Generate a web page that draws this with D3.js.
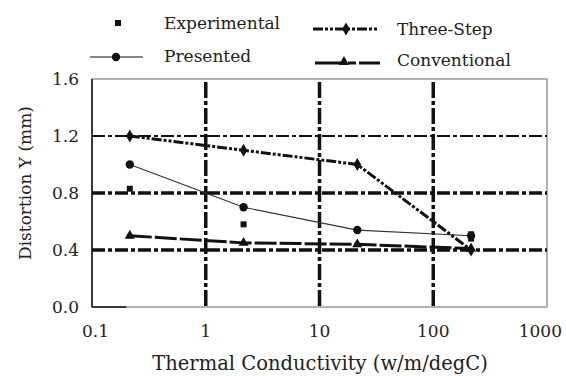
<!DOCTYPE html>
<html>
<head>
<meta charset="utf-8">
<script src="https://cdn.jsdelivr.net/npm/d3@7"></script>
<style>
  body { margin: 0; background: #fff; }
</style>
</head>
<body>
<div id="chart"></div>
<script>
// conductivity values (w/m/degC)
var conductivity = [0.215, 2.15, 21.5, 215];
var threeStep = [1.2, 1.1, 1.0, 0.4];
var presented = [1.0, 0.7, 0.54, 0.5];
var conventional = [0.5, 0.45, 0.44, 0.41];
var experimentalX = [0.215, 2.15, 215, 215];
var experimentalY = [0.83, 0.58, 0.51, 0.48];
var xTicks = [0.1, 1, 10, 100, 1000];
var yTicks = [0.0, 0.4, 0.8, 1.2, 1.6];

var width = 566, height = 376;
var margin = {left: 92, right: 19, top: 79, bottom: 69};
var fontFamily = "'DejaVu Serif', 'Liberation Serif', serif";
var fontSize = "17px";

var svg = d3.select("#chart")
  .append("svg")
    .attr("width", width)
    .attr("height", height)
    .attr("font-family", fontFamily);

var x = d3.scaleLog()
  .domain([0.1, 1000])
  .range([margin.left, width - margin.right]);
var y = d3.scaleLinear()
  .domain([0, 1.6])
  .range([height - margin.bottom, margin.top]);

function label(px, py, str, anchor, size) {
  return svg.append("text")
    .attr("x", px).attr("y", py)
    .attr("text-anchor", anchor || "start")
    .attr("font-family", fontFamily)
    .style("font-size", size || fontSize)
    .style("fill", "#222")
    .text(str);
}

// frame (gray top/right/bottom, black left)
svg.append("rect")
  .attr("x", x(0.1)).attr("y", y(1.6))
  .attr("width", x(1000) - x(0.1)).attr("height", y(0) - y(1.6))
  .attr("fill", "none").attr("stroke", "#999").attr("stroke-width", 1.5);
svg.append("line")
  .attr("x1", x(0.1)).attr("x2", x(0.1)).attr("y1", y(0)).attr("y2", y(1.6))
  .attr("stroke", "#111").attr("stroke-width", 1.5);
svg.append("line")
  .attr("x1", x(0.1)).attr("x2", x(0.2)).attr("y1", y(0)).attr("y2", y(0))
  .attr("stroke", "#111").attr("stroke-width", 1.5);

// grid lines
var hGrid = [
  {v: 1.2, w: 2},
  {v: 0.8, w: 3.5},
  {v: 0.4, w: 3.5}
];
svg.append("g").selectAll("line")
  .data(hGrid)
  .enter().append("line")
    .attr("x1", x(0.1)).attr("x2", x(1000))
    .attr("y1", function(d) { return y(d.v); })
    .attr("y2", function(d) { return y(d.v); })
    .attr("stroke", "#111")
    .attr("stroke-width", function(d) { return d.w; })
    .attr("stroke-dasharray", "13,3,4,3");

svg.append("g").selectAll("line")
  .data([1, 10, 100])
  .enter().append("line")
    .attr("x1", function(d) { return x(d); })
    .attr("x2", function(d) { return x(d); })
    .attr("y1", y(1.6) + 3).attr("y2", y(0))
    .attr("stroke", "#111")
    .attr("stroke-width", 3.5)
    .attr("stroke-dasharray", "16,3,4,3");

// tick labels
yTicks.forEach(function(d) {
  label(x(0.1) - 13, y(d) + 6, d.toFixed(1), "end");
});
xTicks.forEach(function(d, i) {
  if (i === 0) label(x(d) - 10, 337, String(d), "start");
  else if (i === xTicks.length - 1) label(width - 4, 337, String(d), "end");
  else label(x(d), 337, String(d), "middle");
});

// axis titles
label(320, 370, "Thermal Conductivity (w/m/degC)", "middle", "19.5px");
svg.append("text")
  .attr("transform", "translate(31,183) rotate(-90)")
  .attr("text-anchor", "middle")
  .attr("font-family", fontFamily)
  .style("font-size", fontSize)
  .style("fill", "#222")
  .text("Distortion Y (mm)");

// series
var line = d3.line()
  .x(function(d) { return x(d[0]); })
  .y(function(d) { return y(d[1]); });

var seriesThree = d3.zip(conductivity, threeStep);
var seriesPres = d3.zip(conductivity, presented);
var seriesConv = d3.zip(conductivity, conventional);

svg.append("path")
  .datum(seriesConv)
  .attr("d", line)
  .attr("fill", "none").attr("stroke", "#111").attr("stroke-width", 3)
  .attr("stroke-dasharray", "22,3");
svg.append("path")
  .datum(seriesPres)
  .attr("d", line)
  .attr("fill", "none").attr("stroke", "#333").attr("stroke-width", 1.2);
svg.append("path")
  .datum(seriesThree)
  .attr("d", line)
  .attr("fill", "none").attr("stroke", "#111").attr("stroke-width", 3)
  .attr("stroke-dasharray", "10,2,3,2,3,2");

var diamond = d3.symbol().type(d3.symbolDiamond).size(50);
var circle = d3.symbol().type(d3.symbolCircle).size(55);
var triangle = d3.symbol().type(d3.symbolTriangle).size(45);
var square = d3.symbol().type(d3.symbolSquare).size(36);

function markers(data, sym) {
  svg.append("g").selectAll("path")
    .data(data)
    .enter().append("path")
      .attr("d", sym)
      .attr("fill", "#111")
      .attr("transform", function(d) {
        return "translate(" + x(d[0]) + "," + y(d[1]) + ")";
      });
}
markers(seriesConv, triangle);
markers(seriesPres, circle);
markers(seriesThree, diamond);
markers(d3.zip(experimentalX, experimentalY), square);

// legend
svg.append("path").attr("d", square)
  .attr("transform", "translate(118,23)").attr("fill", "#111");
label(164, 29, "Experimental");

svg.append("line").attr("x1", 90).attr("x2", 143).attr("y1", 57).attr("y2", 57)
  .attr("stroke", "#111").attr("stroke-width", 1.2);
svg.append("path").attr("d", circle)
  .attr("transform", "translate(116,57)").attr("fill", "#111");
label(164, 62, "Presented");

svg.append("line").attr("x1", 313).attr("x2", 378).attr("y1", 29).attr("y2", 29)
  .attr("stroke", "#111").attr("stroke-width", 3)
  .attr("stroke-dasharray", "10,2,3,2,3,2");
svg.append("path").attr("d", diamond)
  .attr("transform", "translate(346,29)").attr("fill", "#111");
label(397, 35, "Three-Step");

svg.append("line").attr("x1", 315).attr("x2", 380).attr("y1", 63).attr("y2", 63)
  .attr("stroke", "#111").attr("stroke-width", 3)
  .attr("stroke-dasharray", "30,3,8,3");
svg.append("path").attr("d", triangle)
  .attr("transform", "translate(344,62)").attr("fill", "#111");
label(397, 66, "Conventional");
</script>
</body>
</html>
